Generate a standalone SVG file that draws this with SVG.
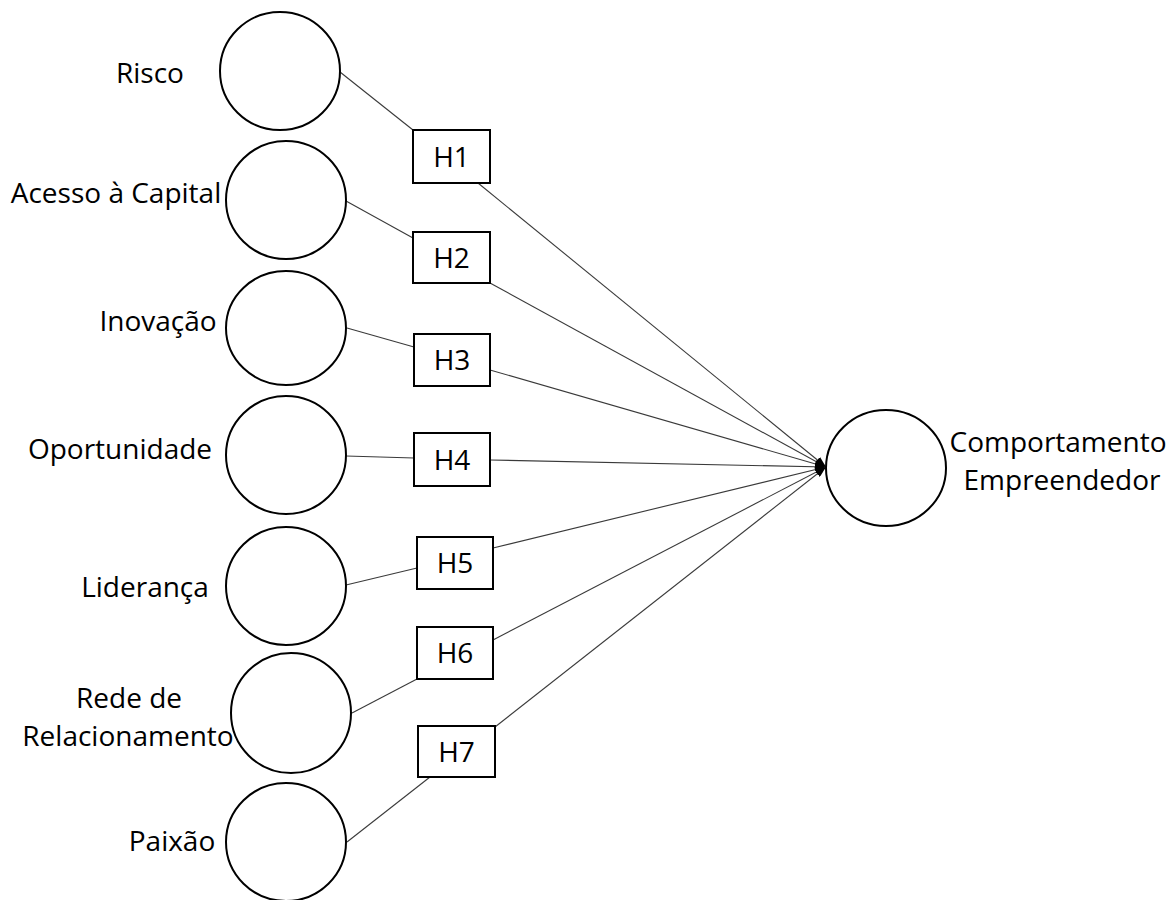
<svg xmlns="http://www.w3.org/2000/svg" width="1175" height="900" viewBox="0 0 1175 900">
<style>
  .node { fill: #ffffff; stroke: #000000; stroke-width: 2; }
  .lbl { font-family: "Open Sans", "Noto Sans", sans-serif; font-size: 28px; fill: #000000; text-anchor: middle; }
  .conn { stroke: #3a3a3a; stroke-width: 1.1; fill: none; }
</style>
<defs>
  <marker id="arrow" markerUnits="userSpaceOnUse" markerWidth="11" markerHeight="8" refX="11" refY="4" orient="auto">
    <path d="M0,0 L11,4 L0,8 z" fill="#000000"/>
  </marker>
</defs>
<rect width="1175" height="900" fill="#ffffff"/>

<g id="connectors">
  <line class="conn" x1="340" y1="72" x2="413" y2="130"/>
  <line class="conn" x1="346" y1="201" x2="413" y2="238"/>
  <line class="conn" x1="347" y1="328" x2="414" y2="347"/>
  <line class="conn" x1="346" y1="456" x2="414" y2="458"/>
  <line class="conn" x1="346" y1="585" x2="417" y2="568"/>
  <line class="conn" x1="352" y1="713" x2="417" y2="679"/>
  <line class="conn" x1="347" y1="842" x2="430" y2="777"/>
  <line class="conn" x1="478" y1="183" x2="826" y2="467" marker-end="url(#arrow)"/>
  <line class="conn" x1="490" y1="283" x2="826" y2="467" marker-end="url(#arrow)"/>
  <line class="conn" x1="490" y1="370" x2="826" y2="467" marker-end="url(#arrow)"/>
  <line class="conn" x1="490" y1="460" x2="826" y2="467" marker-end="url(#arrow)"/>
  <line class="conn" x1="493" y1="548" x2="826" y2="467" marker-end="url(#arrow)"/>
  <line class="conn" x1="493" y1="640" x2="826" y2="467" marker-end="url(#arrow)"/>
  <line class="conn" x1="495" y1="727" x2="826" y2="467" marker-end="url(#arrow)"/>
</g>

<g id="risco">
  <ellipse class="node" cx="280" cy="71" rx="60" ry="59"/>
  <text class="lbl" x="150" y="83">Risco</text>
</g>
<g id="acesso">
  <ellipse class="node" cx="286" cy="200" rx="60" ry="59"/>
  <text class="lbl" x="116" y="203">Acesso à Capital</text>
</g>
<g id="inovacao">
  <ellipse class="node" cx="286" cy="328" rx="60" ry="57"/>
  <text class="lbl" x="158" y="331">Inovação</text>
</g>
<g id="oportunidade">
  <ellipse class="node" cx="286" cy="455" rx="60" ry="59"/>
  <text class="lbl" x="120" y="459">Oportunidade</text>
</g>
<g id="lideranca">
  <ellipse class="node" cx="286" cy="586" rx="60" ry="59"/>
  <text class="lbl" x="145" y="597">Liderança</text>
</g>
<g id="rede">
  <ellipse class="node" cx="291" cy="713" rx="60" ry="60"/>
  <text class="lbl" x="129" y="708">Rede de</text>
  <text class="lbl" x="128" y="746">Relacionamento</text>
</g>
<g id="paixao">
  <ellipse class="node" cx="286" cy="842" rx="60" ry="59"/>
  <text class="lbl" x="172" y="851">Paixão</text>
</g>
<g id="comportamento">
  <ellipse class="node" cx="886" cy="468" rx="60" ry="58"/>
  <text class="lbl" x="1058" y="452">Comportamento</text>
  <text class="lbl" x="1062" y="490">Empreendedor</text>
</g>

<g id="h1">
  <rect class="node" x="413" y="130" width="77" height="53"/>
  <text class="lbl" x="451.5" y="166.5">H1</text>
</g>
<g id="h2">
  <rect class="node" x="413" y="232" width="77" height="51"/>
  <text class="lbl" x="451.5" y="267.5">H2</text>
</g>
<g id="h3">
  <rect class="node" x="414" y="334" width="76" height="52"/>
  <text class="lbl" x="452" y="370">H3</text>
</g>
<g id="h4">
  <rect class="node" x="414" y="433" width="76" height="53"/>
  <text class="lbl" x="452" y="469.5">H4</text>
</g>
<g id="h5">
  <rect class="node" x="417" y="537" width="76" height="52"/>
  <text class="lbl" x="455" y="573">H5</text>
</g>
<g id="h6">
  <rect class="node" x="417" y="627" width="76" height="52"/>
  <text class="lbl" x="455" y="663">H6</text>
</g>
<g id="h7">
  <rect class="node" x="418" y="726" width="77" height="51"/>
  <text class="lbl" x="456.5" y="761.5">H7</text>
</g>
</svg>
